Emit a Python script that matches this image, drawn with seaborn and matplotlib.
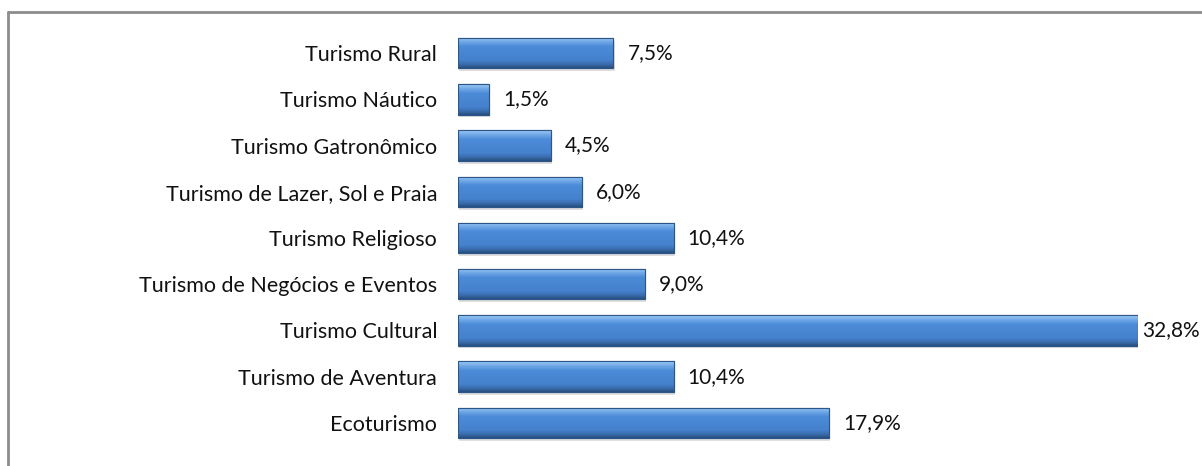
import numpy as np
import pandas as pd
import matplotlib.pyplot as plt
import seaborn as sns
from matplotlib.lines import Line2D
from matplotlib.colors import LinearSegmentedColormap

categories = ['Turismo Rural', 'Turismo Náutico', 'Turismo Gatronômico',
              'Turismo de Lazer, Sol e Praia', 'Turismo Religioso',
              'Turismo de Negócios e Eventos', 'Turismo Cultural',
              'Turismo de Aventura', 'Ecoturismo']
values = [7.5, 1.5, 4.5, 6.0, 10.4, 9.0, 32.8, 10.4, 17.9]
value_labels = ['7,5%', '1,5%', '4,5%', '6,0%', '10,4%', '9,0%', '32,8%', '10,4%', '17,9%']

df = pd.DataFrame({'categoria': categories, 'valor': values})

sns.set_style('white')
plt.rcParams['font.family'] = ['Lato', 'DejaVu Sans']

fig = plt.figure(figsize=(12.02, 4.66), dpi=100)
ax = fig.add_axes([458 / 1202, 1 - 446 / 466, (1138 - 458) / 1202, 416 / 466])

sns.barplot(data=df, y='categoria', x='valor', orient='h', color='#4A88D4',
            width=0.66, ax=ax, edgecolor='#2B5687', linewidth=0.8, saturation=1)

# vertical gradient inside each bar, like the bevelled Excel bars
cmap = LinearSegmentedColormap.from_list(
    'bev', [(0, '#9CCBF5'), (0.15, '#6FA7E6'), (0.3, '#4C8BD8'),
            (0.75, '#4581CD'), (0.88, '#3A6DAE'), (1, '#274F80')])
grad = np.linspace(0, 1, 64).reshape(-1, 1)
for p in list(ax.patches):
    x0, y0 = p.get_x(), p.get_y()
    w, h = p.get_width(), p.get_height()
    # soft shadow under the bar
    ax.add_patch(plt.Rectangle((x0 + 0.05, y0 + 0.06), w, h, facecolor='#000000',
                               alpha=0.12, edgecolor='none', zorder=p.get_zorder() - 0.1))
    im = ax.imshow(grad, cmap=cmap, aspect='auto', extent=(x0, x0 + w, y0 + h, y0),
                   origin='upper', zorder=p.get_zorder() + 0.1)
    im.set_clip_path(p)
    ax.add_patch(plt.Rectangle((x0, y0), w, h, fill=False, edgecolor='#2B5687',
                               linewidth=0.8, zorder=p.get_zorder() + 0.2))

ax.set_xlim(0, 32.8)
ax.set_ylim(len(categories) - 0.5, -0.5)

for i, (v, lab) in enumerate(zip(values, value_labels)):
    # longest bar: label squeezed in next to the bar, as Excel does
    off = 3 if v == max(values) else 10
    ax.annotate(lab, xy=(v, i), xytext=(off, 0), textcoords='offset points',
                va='center', ha='left', fontsize=15, color='#111111')

ax.set_xlabel('')
ax.set_ylabel('')
ax.set_xticks([])
ax.tick_params(axis='y', length=0, pad=15, labelsize=15.5, labelcolor='#111111')
sns.despine(ax=ax, left=True, bottom=True)

# outer chart border (top and left visible)
fig.add_artist(Line2D([8 / 1202, 1], [1 - 12 / 466, 1 - 12 / 466], color='#8C8C8C', linewidth=2))
fig.add_artist(Line2D([8 / 1202, 8 / 1202], [0, 1 - 12 / 466], color='#8C8C8C', linewidth=2))

plt.savefig('out.png', dpi=100)
plt.close()
